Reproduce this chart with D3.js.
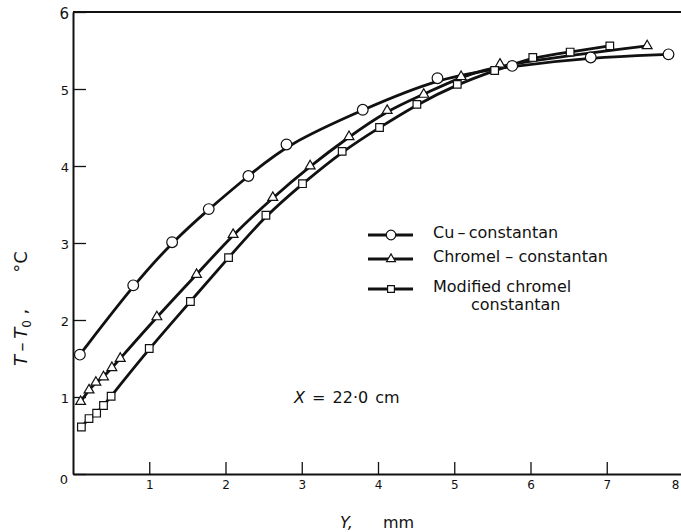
<!DOCTYPE html>
<html>
<head>
<meta charset="utf-8">
<script src="https://cdn.jsdelivr.net/npm/d3@7"></script>
<style>
  body { margin: 0; background: #fff; }
  svg { display: block; font-family: "DejaVu Sans", "Liberation Sans", sans-serif; }
</style>
</head>
<body>
<div id="chart"></div>
<script>
// Y position (mm) and temperature rise (deg C)
const cuY = [0.09, 0.79, 1.30, 1.78, 2.30, 2.80, 3.80, 4.78, 5.76, 6.79, 7.81];
const cuT = [1.55, 2.45, 3.01, 3.44, 3.87, 4.28, 4.73, 5.14, 5.30, 5.41, 5.45];

const chromelY = [0.10, 0.21, 0.30, 0.40, 0.51, 0.62, 1.10, 1.62, 2.10, 2.62, 3.11, 3.62, 4.12, 4.60, 5.09, 5.60, 7.53];
const chromelT = [0.94, 1.09, 1.19, 1.26, 1.38, 1.50, 2.04, 2.59, 3.11, 3.59, 4.00, 4.38, 4.72, 4.93, 5.16, 5.32, 5.56];

const modY = [0.11, 0.21, 0.31, 0.40, 0.50, 1.00, 1.54, 2.04, 2.53, 3.01, 3.53, 4.02, 4.51, 5.04, 5.53, 6.03, 6.52, 7.04];
const modT = [0.61, 0.72, 0.79, 0.89, 1.01, 1.63, 2.24, 2.81, 3.36, 3.77, 4.19, 4.50, 4.80, 5.06, 5.24, 5.41, 5.48, 5.56];

const xTicks = [1, 2, 3, 4, 5, 6, 7, 8];
const yTicks = [0, 1, 2, 3, 4, 5, 6];

const legendLabels = [["Cu\u2009\u2013\u2009constantan"], ["Chromel \u2013 constantan"], ["Modified  chromel", "constantan"]];

const width = 681, height = 532;

const svg = d3.select("#chart").append("svg")
    .attr("width", width)
    .attr("height", height);

// Scales
const x = d3.scaleLinear().domain([0, 8]).range([73, 683]);
const y = d3.scaleLinear().domain([0, 6]).range([474, 12]);

// Frame top line
svg.append("line")
    .attr("x1", x(0)).attr("x2", width)
    .attr("y1", y(6)).attr("y2", y(6))
    .attr("stroke", "#111").attr("stroke-width", 2);

// X axis (ticks pointing inward)
const xAxis = svg.append("g")
    .attr("transform", `translate(0,${y(0)})`)
    .call(d3.axisBottom(x).tickValues(xTicks).tickSizeInner(-12).tickSizeOuter(0).tickPadding(6).tickFormat(d3.format("d")));

// Y axis
const yAxis = svg.append("g")
    .attr("transform", `translate(${x(0)},0)`)
    .call(d3.axisLeft(y).tickValues(yTicks).tickSizeInner(-13).tickSizeOuter(0).tickPadding(4).tickFormat(d3.format("d")));

[xAxis, yAxis].forEach(g => {
    g.select(".domain").attr("stroke", "#111").attr("stroke-width", 2);
    g.selectAll(".tick line").attr("stroke", "#111").attr("stroke-width", 1.3);
    g.selectAll(".tick text")
        .attr("fill", "#111")
        .style("font-size", "13px")
        .style("font-family", "\"DejaVu Sans\", sans-serif");
});
yAxis.selectAll(".tick text").attr("dy", "0.4em");
yAxis.selectAll(".tick").filter(d => d === 6).select("text").style("font-size", "15px");
yAxis.selectAll(".tick").filter(d => d === 0).select("text").attr("dx", "-1").attr("dy", "0.75em");
xAxis.selectAll(".tick text").style("font-size", "12px");
// last label sits right at the page edge
xAxis.selectAll(".tick").filter(d => d === 8).select("text").attr("text-anchor", "end").attr("dx", "-4");

// Curves
const line = d3.line()
    .x(d => x(d[0]))
    .y(d => y(d[1]))
    .curve(d3.curveBasis);

const series = [
    { ys: cuY, ts: cuT, symbol: d3.symbolCircle, size: 90 },
    { ys: chromelY, ts: chromelT, symbol: d3.symbolTriangle, size: 42 },
    { ys: modY, ts: modT, symbol: d3.symbolSquare, size: 58 }
];

series.forEach(s => {
    const pts = s.ys.map((v, i) => [v, s.ts[i]]);
    svg.append("path")
        .datum(pts)
        .attr("d", line)
        .attr("fill", "none")
        .attr("stroke", "#111")
        .attr("stroke-width", 2.8);
});

series.forEach(s => {
    const pts = s.ys.map((v, i) => [v, s.ts[i]]);
    svg.append("g").selectAll("path")
        .data(pts)
        .enter().append("path")
        .attr("transform", d => `translate(${x(d[0])},${y(d[1])})`)
        .attr("d", d3.symbol().type(s.symbol).size(s.size))
        .attr("fill", "#fff")
        .attr("stroke", "#111")
        .attr("stroke-width", 1.2);
});

// Legend
const legendRows = [235, 259, 289];
const legend = svg.append("g");
series.forEach((s, i) => {
    const ly = legendRows[i];
    legend.append("line")
        .attr("x1", 368).attr("x2", 413)
        .attr("y1", ly).attr("y2", ly)
        .attr("stroke", "#111").attr("stroke-width", 2.8);
    legend.append("path")
        .attr("transform", `translate(391,${ly})`)
        .attr("d", d3.symbol().type(s.symbol).size(s.size * 0.8))
        .attr("fill", "#fff")
        .attr("stroke", "#111")
        .attr("stroke-width", 1.2);
    legendLabels[i].forEach((t, j) => {
        legend.append("text")
            .attr("x", j === 0 ? 433 : 471)
            .attr("y", (i === 2 ? 292 : ly + 3) + j * 18)
            .attr("fill", "#111")
            .style("font-size", "16px")
            .text(t);
    });
});

// Annotation
const note = svg.append("text")
    .attr("x", 294).attr("y", 403)
    .attr("fill", "#111")
    .style("font-size", "16px")
    .style("word-spacing", "2px");
note.append("tspan").style("font-style", "italic").text("X");
note.append("tspan").text(" = 22\u00b70  cm");

// X axis title
const xTitle = svg.append("text")
    .attr("x", 340).attr("y", 528)
    .attr("fill", "#111")
    .style("font-size", "16px");
xTitle.append("tspan").style("font-style", "italic").text("Y,");
xTitle.append("tspan").attr("x", 383).text("mm");

// Y axis title
const yTitle = svg.append("text")
    .attr("transform", "translate(27,366) rotate(-90)")
    .attr("fill", "#111")
    .style("font-size", "18px");
yTitle.append("tspan").style("font-style", "italic").text("T\u2009\u2013\u2009T");
yTitle.append("tspan").attr("dy", 4).style("font-size", "12px").text("0");
yTitle.append("tspan").attr("dy", -4).text(" ,");
yTitle.append("tspan").attr("dx", 36).text("\u00b0C");
</script>
</body>
</html>
